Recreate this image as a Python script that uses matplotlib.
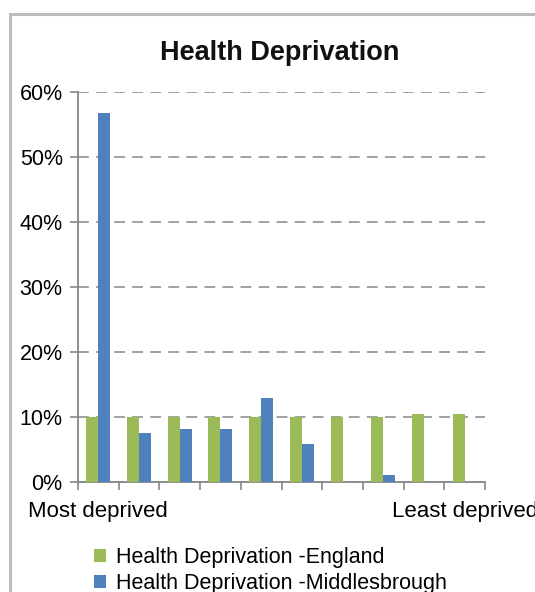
import numpy as np
import matplotlib.pyplot as plt
from matplotlib.patches import Rectangle

plt.rcParams['font.family'] = ['Liberation Sans', 'DejaVu Sans']

# Deprivation deciles, most deprived -> least deprived
deciles = ['Most deprived', '', '', '', '', '', '', '', '', 'Least deprived']
england = [10.0, 10.0, 10.0, 10.0, 10.0, 10.0, 10.0, 10.0, 10.4, 10.4]
middlesbrough = [56.7, 7.6, 8.2, 8.2, 13.0, 5.9, 0.0, 1.1, 0.0, 0.0]

green = '#9BBB59'
blue = '#4F81BD'
axis_grey = '#868686'

fig = plt.figure(figsize=(5.35, 5.92), dpi=100)
ax = fig.add_axes([78 / 535, 1 - 482 / 592, (485 - 78) / 535, (482 - 92) / 592])

# chart area border (cut off at right and bottom like the reference)
fig.patches.append(Rectangle((10 / 535, -0.1), 2.0, 1.1 - 14 / 592, transform=fig.transFigure,
                             fill=False, edgecolor='#BDBDBD', linewidth=2.2, clip_on=False))

x = np.arange(len(deciles)) + 0.5
w = 0.295
ax.bar(x - w / 2, england, width=w, color=green, label='Health Deprivation -England', zorder=3)
ax.bar(x + w / 2, middlesbrough, width=w, color=blue, label='Health Deprivation -Middlesbrough', zorder=3)

ax.set_xlim(0, 10)
ax.set_ylim(0, 60)
ax.set_yticks(range(0, 61, 10))
ax.set_yticklabels([f'{v}%' for v in range(0, 61, 10)], fontsize=15.5)
ax.set_xticks(range(0, 11))
ax.set_xticklabels([])
ax.set_xticks(x, minor=True)
ax.set_xticklabels(deciles, minor=True, fontsize=16)
ax.tick_params(axis='x', which='minor', length=0, pad=14)
ax.tick_params(axis='x', which='major', length=6, color=axis_grey, width=1.2)
ax.tick_params(axis='y', length=6, color=axis_grey, width=1.2, pad=5)

ax.yaxis.grid(True, linestyle=(0, (6, 4)), color='#9a9a9a', linewidth=1.3, zorder=0)
for s in ['top', 'right']:
    ax.spines[s].set_visible(False)
for s in ['left', 'bottom']:
    ax.spines[s].set_color(axis_grey)
    ax.spines[s].set_linewidth(1.3)

fig.text(0.523, 1 - 53 / 592, 'Health Deprivation', ha='center', va='center',
         fontsize=19.5, fontweight='bold', color='#111111')

fig.legend(loc='upper left', bbox_to_anchor=(94 / 535, 1 - 547 / 592), frameon=False,
           fontsize=15.5, handlelength=0.55, handleheight=0.55, handletextpad=0.45,
           labelspacing=0.25, borderpad=0, borderaxespad=0)

fig.savefig('out.png', dpi=100)
